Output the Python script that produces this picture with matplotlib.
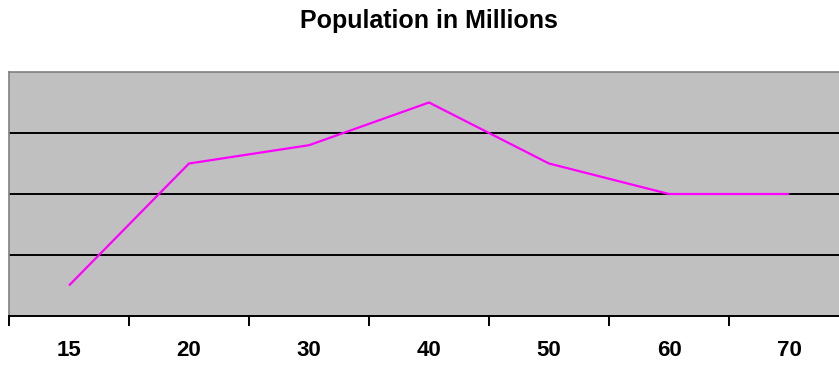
import matplotlib
matplotlib.use("Agg")
import matplotlib.pyplot as plt
import numpy as np

categories = ["15", "20", "30", "40", "50", "60", "70"]
values = [5, 25, 28, 35, 25, 20, 20]
gridlines = [10, 20, 30]

plt.rcParams['font.family'] = ['Liberation Sans', 'DejaVu Sans']

W, H = 839, 366
fig = plt.figure(figsize=(W / 100, H / 100), dpi=100)
fig.patch.set_facecolor("white")
left, right, top, bottom = 9, 849, 72, 316
ax = fig.add_axes([left / W, (H - bottom) / H, (right - left) / W, (bottom - top) / H])
ax.set_facecolor("#C0C0C0")

x = np.arange(len(categories))
ax.plot(x, values, color="#FF00FF", linewidth=1.6, zorder=3, solid_capstyle="butt")
for g in gridlines:
    ax.axhline(g, color="black", linewidth=1.4, zorder=2)

ax.set_xlim(-0.5, len(categories) - 0.5)
ax.set_ylim(0, 40)
ax.set_yticks([])
ax.set_xticks(np.arange(len(categories) + 1) - 0.5)
ax.set_xticklabels([])
ax.set_xticks(x, minor=True)
ax.set_xticklabels(categories, minor=True, fontsize=16, fontweight="bold")
ax.tick_params(axis="x", which="major", direction="out", length=7, width=1.4, color="black")
ax.tick_params(axis="x", which="minor", length=0, pad=17)

for s in ["top", "left", "right"]:
    ax.spines[s].set_color("#808080")
    ax.spines[s].set_linewidth(1.2)
ax.spines["bottom"].set_color("black")
ax.spines["bottom"].set_linewidth(1.4)

fig.text(428.5 / W, 1 - 21 / H, "Population in Millions", ha="center", va="center",
         fontsize=18, fontweight="bold")

fig.savefig("out.png", dpi=100)
